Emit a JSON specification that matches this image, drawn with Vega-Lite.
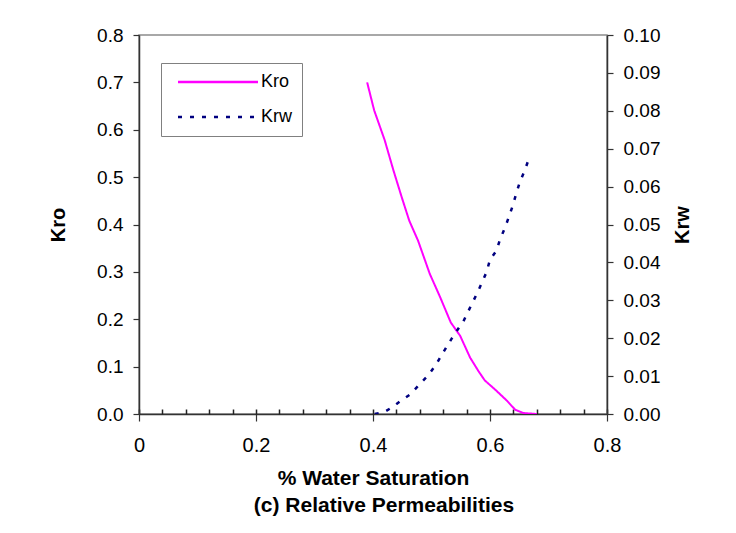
{
  "$schema": "https://vega.github.io/schema/vega-lite/v6.json",
  "width": 468,
  "height": 379,
  "autosize": {"type": "none"},
  "padding": {"left": 139, "top": 35, "right": 129, "bottom": 119},
  "background": "white",
  "config": {
    "font": "Liberation Sans",
    "view": {"stroke": "#8c8c8c", "strokeWidth": 1.5},
    "axis": {
      "labelFont": "Liberation Sans",
      "titleFont": "Liberation Sans",
      "labelColor": "black",
      "titleColor": "black",
      "domainColor": "#333333",
      "tickColor": "#333333",
      "domainWidth": 1.5,
      "tickWidth": 1.2,
      "labelFlush": false,
      "grid": false
    }
  },
  "title": {
    "text": "(c) Relative Permeabilities",
    "orient": "bottom",
    "font": "Liberation Sans",
    "fontSize": 21,
    "fontWeight": "bold",
    "color": "black",
    "offset": 7,
    "dx": 11
  },
  "data": {
    "values": [
      {"sw": 0.390, "k": 0.700, "curve": "Kro"},
      {"sw": 0.402, "k": 0.641, "curve": "Kro"},
      {"sw": 0.420, "k": 0.578, "curve": "Kro"},
      {"sw": 0.435, "k": 0.514, "curve": "Kro"},
      {"sw": 0.449, "k": 0.458, "curve": "Kro"},
      {"sw": 0.462, "k": 0.408, "curve": "Kro"},
      {"sw": 0.477, "k": 0.366, "curve": "Kro"},
      {"sw": 0.497, "k": 0.296, "curve": "Kro"},
      {"sw": 0.515, "k": 0.246, "curve": "Kro"},
      {"sw": 0.533, "k": 0.193, "curve": "Kro"},
      {"sw": 0.549, "k": 0.165, "curve": "Kro"},
      {"sw": 0.566, "k": 0.119, "curve": "Kro"},
      {"sw": 0.580, "k": 0.091, "curve": "Kro"},
      {"sw": 0.591, "k": 0.071, "curve": "Kro"},
      {"sw": 0.611, "k": 0.049, "curve": "Kro"},
      {"sw": 0.629, "k": 0.028, "curve": "Kro"},
      {"sw": 0.643, "k": 0.009, "curve": "Kro"},
      {"sw": 0.657, "k": 0.002, "curve": "Kro"},
      {"sw": 0.668, "k": 0.001, "curve": "Kro"},
      {"sw": 0.680, "k": 0.000, "curve": "Kro"},
      {"sw": 0.403, "k": 0.0000, "curve": "Krw"},
      {"sw": 0.420, "k": 0.0006, "curve": "Krw"},
      {"sw": 0.432, "k": 0.0017, "curve": "Krw"},
      {"sw": 0.446, "k": 0.0033, "curve": "Krw"},
      {"sw": 0.464, "k": 0.0052, "curve": "Krw"},
      {"sw": 0.480, "k": 0.0079, "curve": "Krw"},
      {"sw": 0.495, "k": 0.0103, "curve": "Krw"},
      {"sw": 0.508, "k": 0.0131, "curve": "Krw"},
      {"sw": 0.521, "k": 0.0165, "curve": "Krw"},
      {"sw": 0.535, "k": 0.0200, "curve": "Krw"},
      {"sw": 0.547, "k": 0.0228, "curve": "Krw"},
      {"sw": 0.555, "k": 0.0246, "curve": "Krw"},
      {"sw": 0.566, "k": 0.0281, "curve": "Krw"},
      {"sw": 0.580, "k": 0.0325, "curve": "Krw"},
      {"sw": 0.594, "k": 0.0374, "curve": "Krw"},
      {"sw": 0.600, "k": 0.0407, "curve": "Krw"},
      {"sw": 0.611, "k": 0.0431, "curve": "Krw"},
      {"sw": 0.617, "k": 0.0460, "curve": "Krw"},
      {"sw": 0.626, "k": 0.0493, "curve": "Krw"},
      {"sw": 0.632, "k": 0.0519, "curve": "Krw"},
      {"sw": 0.639, "k": 0.0550, "curve": "Krw"},
      {"sw": 0.644, "k": 0.0577, "curve": "Krw"},
      {"sw": 0.651, "k": 0.0612, "curve": "Krw"},
      {"sw": 0.660, "k": 0.0645, "curve": "Krw"},
      {"sw": 0.667, "k": 0.0676, "curve": "Krw"}
    ]
  },
  "layer": [
    {
      "transform": [{"filter": "datum.curve === 'Kro'"}],
      "mark": {"type": "line", "strokeWidth": 2, "clip": true},
      "encoding": {
        "x": {
          "field": "sw", "type": "quantitative",
          "scale": {"domain": [0, 0.8], "nice": false, "zero": false},
          "axis": {
            "orient": "bottom",
            "values": [0, 0.2, 0.4, 0.6, 0.8],
            "format": "~g",
            "tickSize": 7,
            "labelPadding": 14,
            "labelFontSize": 20,
            "title": "% Water Saturation",
            "titleFontSize": 21,
            "titleFontWeight": "bold",
            "titlePadding": 12
          }
        },
        "y": {
          "field": "k", "type": "quantitative",
          "scale": {"domain": [0, 0.8], "nice": false},
          "axis": {
            "orient": "left",
            "values": [0, 0.1, 0.2, 0.3, 0.4, 0.5, 0.6, 0.7, 0.8],
            "format": ".1f",
            "tickSize": 6,
            "labelPadding": 10,
            "labelFontSize": 19,
            "title": "Kro",
            "titleFontSize": 20,
            "titleFontWeight": "bold",
            "titleAngle": 270,
            "titlePadding": 28
          }
        },
        "color": {
          "field": "curve", "type": "nominal",
          "scale": {"domain": ["Kro", "Krw"], "range": ["#ff00ff", "#000080"]},
          "legend": {
            "title": null,
            "orient": "none",
            "legendX": 22,
            "legendY": 28,
            "symbolType": "M-8,0H8",
            "symbolSize": 100,
            "symbolOffset": 38,
            "symbolStrokeWidth": 2.5,
            "labelFontSize": 18,
            "labelFont": "Liberation Sans",
            "labelColor": "black",
            "labelOffset": 34,
            "padding": 10,
            "rowPadding": 17,
            "strokeColor": "#808080",
            "fillColor": "white"
          }
        },
        "strokeDash": {
          "field": "curve", "type": "nominal",
          "scale": {"domain": ["Kro", "Krw"], "range": [[1, 0], [4, 8]]},
          "legend": null
        }
      }
    },
    {
      "transform": [{"filter": "datum.curve === 'Krw'"}],
      "mark": {"type": "line", "strokeWidth": 2.5, "clip": true},
      "encoding": {
        "x": {
          "field": "sw", "type": "quantitative",
          "scale": {"domain": [0, 0.8], "nice": false, "zero": false},
          "axis": {
            "orient": "bottom",
            "values": [0, 0.04, 0.08, 0.12, 0.16, 0.2, 0.24, 0.28, 0.32, 0.36, 0.4, 0.44, 0.48, 0.52, 0.56, 0.6, 0.64, 0.68, 0.72, 0.76, 0.8],
            "tickSize": -5,
            "tickWidth": 1.5,
            "tickColor": "#222222",
            "labels": false,
            "domain": false,
            "title": null
          }
        },
        "y": {
          "field": "k", "type": "quantitative",
          "scale": {"domain": [0, 0.1], "nice": false},
          "axis": {
            "orient": "right",
            "values": [0, 0.01, 0.02, 0.03, 0.04, 0.05, 0.06, 0.07, 0.08, 0.09, 0.1],
            "format": ".2f",
            "tickSize": 6,
            "labelPadding": 10,
            "labelFontSize": 19,
            "title": "Krw",
            "titleFontSize": 20,
            "titleFontWeight": "bold",
            "titleAngle": 270,
            "titlePadding": 33
          }
        },
        "color": {"field": "curve", "type": "nominal"},
        "strokeDash": {"field": "curve", "type": "nominal"}
      }
    }
  ],
  "resolve": {
    "scale": {"x": "independent", "y": "independent"},
    "axis": {"x": "independent", "y": "independent"}
  }
}
